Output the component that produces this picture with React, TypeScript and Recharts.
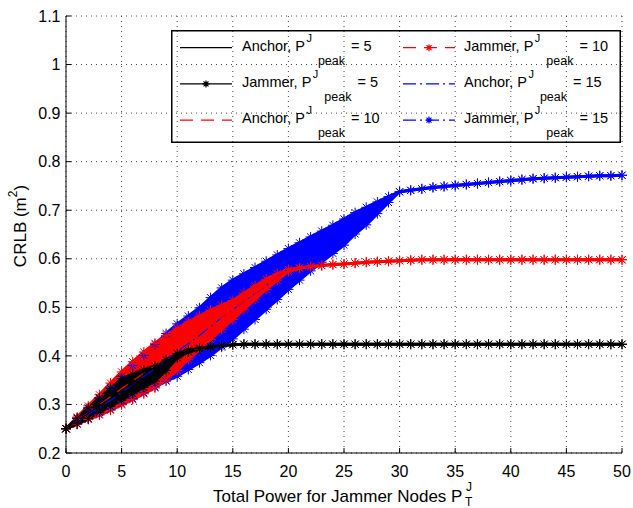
import { ComposedChart, Area, Line, XAxis, YAxis, CartesianGrid, Legend } from "recharts";

// x grid of the jammer curves (total jammer power)
const xs = [
  0, 1, 2, 3, 4, 5, 6, 7, 8, 9, 10, 11, 12, 13, 14, 15, 16, 17, 18, 19, 20, 21, 22, 23, 24, 25,
  26, 27, 28, 29, 30, 31, 32, 33, 34, 35, 36, 37, 38, 39, 40, 41, 42, 43, 44, 45, 46, 47, 48, 49, 50,
];

// Jammer, Ppeak = 5 : spread band for x = 0..15, then flat for x = 16..50
const j5Upper = [0.25, 0.272, 0.293, 0.313, 0.333, 0.353, 0.362, 0.371, 0.379, 0.392, 0.405, 0.412, 0.416, 0.419, 0.421, 0.423];
const j5Lower = [0.25, 0.26, 0.271, 0.284, 0.296, 0.309, 0.322, 0.335, 0.348, 0.37, 0.396, 0.408, 0.414, 0.418, 0.421, 0.423];
const j5Flat = [
  0.424, 0.424, 0.424, 0.424, 0.424, 0.424, 0.424, 0.424, 0.424, 0.424, 0.424, 0.424, 0.424, 0.424, 0.424, 0.424, 0.424, 0.424,
  0.424, 0.424, 0.424, 0.424, 0.424, 0.424, 0.424, 0.424, 0.424, 0.424, 0.424, 0.424, 0.424, 0.424, 0.424, 0.424, 0.424,
];

// Jammer, Ppeak = 10 : band for x = 0..20, flat for x = 21..50
const j10Upper = [
  0.25, 0.274, 0.297, 0.32, 0.344, 0.367, 0.388, 0.408, 0.426, 0.442, 0.457, 0.47, 0.482, 0.494, 0.504, 0.514, 0.529, 0.544,
  0.558, 0.569, 0.578,
];
const j10Lower = [
  0.25, 0.259, 0.269, 0.278, 0.288, 0.299, 0.31, 0.322, 0.334, 0.35, 0.37, 0.393, 0.413, 0.434, 0.455, 0.475, 0.496, 0.517,
  0.537, 0.556, 0.574,
];
const j10Flat = [
  0.581, 0.584, 0.586, 0.588, 0.589, 0.591, 0.593, 0.594, 0.595, 0.596, 0.597, 0.598, 0.598, 0.598, 0.598, 0.598, 0.598,
  0.598, 0.598, 0.598, 0.598, 0.598, 0.598, 0.598, 0.598, 0.598, 0.598, 0.598, 0.598, 0.598,
];

// Jammer, Ppeak = 15 : band for x = 0..30, flat for x = 31..50
const j15Upper = [
  0.25, 0.271, 0.292, 0.314, 0.336, 0.358, 0.38, 0.401, 0.424, 0.446, 0.466, 0.482, 0.499, 0.52, 0.54, 0.556, 0.569, 0.582,
  0.595, 0.608, 0.621, 0.633, 0.645, 0.657, 0.669, 0.682, 0.695, 0.706, 0.717, 0.728, 0.738,
];
const j15Lower = [
  0.25, 0.26, 0.27, 0.28, 0.29, 0.301, 0.312, 0.324, 0.336, 0.348, 0.358, 0.372, 0.386, 0.401, 0.418, 0.435, 0.455, 0.475,
  0.496, 0.516, 0.537, 0.556, 0.575, 0.593, 0.611, 0.628, 0.651, 0.67, 0.693, 0.716, 0.738,
];
const j15Flat = [
  0.741, 0.744, 0.747, 0.749, 0.751, 0.753, 0.755, 0.757, 0.759, 0.761, 0.763, 0.765, 0.766, 0.767, 0.768, 0.769, 0.77,
  0.771, 0.771, 0.772,
];

// Anchor curves on a coarser grid
const anchorX = [0, 2, 4, 6, 8, 10, 12, 14, 16, 18, 20, 22, 24, 26, 28, 30, 35, 40, 45, 50];
const anchor5 = [0.25, 0.282, 0.313, 0.342, 0.363, 0.401, 0.415, 0.421, 0.423, 0.424, 0.424, 0.424, 0.424, 0.424, 0.424, 0.424, 0.424, 0.424, 0.424, 0.424];
const anchor10 = [0.25, 0.283, 0.316, 0.349, 0.38, 0.414, 0.447, 0.479, 0.512, 0.546, 0.577, 0.584, 0.588, 0.591, 0.594, 0.596, 0.598, 0.598, 0.598, 0.598];
const anchor15 = [0.25, 0.279, 0.308, 0.341, 0.374, 0.409, 0.442, 0.479, 0.512, 0.545, 0.579, 0.61, 0.64, 0.673, 0.705, 0.738, 0.751, 0.761, 0.768, 0.772];

const xTicks = [0, 5, 10, 15, 20, 25, 30, 35, 40, 45, 50];
const yTicks = [0.2, 0.3, 0.4, 0.5, 0.6, 0.7, 0.8, 0.9, 1, 1.1];

const lo5 = [...j5Lower, ...j5Flat];
const hi5 = [...j5Upper, ...j5Flat];
const lo10 = [...j10Lower, ...j10Flat];
const hi10 = [...j10Upper, ...j10Flat];
const lo15 = [...j15Lower, ...j15Flat];
const hi15 = [...j15Upper, ...j15Flat];

const rows = xs.map((x, i) => ({
  x,
  lo5: lo5[i], hi5: hi5[i],
  lo10: lo10[i], hi10: hi10[i],
  lo15: lo15[i], hi15: hi15[i],
}));
const anchorRows = anchorX.map((x, i) => ({ x, a5: anchor5[i], a10: anchor10[i], a15: anchor15[i] }));

const FONT = "'Liberation Sans', Arial, Helvetica, sans-serif";
const BLACK = "#000000";
const RED = "#ff0000";
const BLUE = "#0000ff";

const starPath = (cx: number, cy: number, r: number) => {
  const d = r * 0.707;
  return `M${cx - r},${cy}H${cx + r}M${cx},${cy - r}V${cy + r}M${cx - d},${cy - d}L${cx + d},${cy + d}M${cx - d},${cy + d}L${cx + d},${cy - d}`;
};

const starDot = (color: string) => (p: any) => {
  if (p.cx == null || p.cy == null) return <g key={`s${p.index}`} />;
  return <path key={`s${p.index}`} d={starPath(p.cx, p.cy, 5)} stroke={color} strokeWidth={1} fill="none" />;
};

const legendEntries = [
  { name: "Anchor", peak: "5", color: BLACK, dash: undefined, star: false },
  { name: "Jammer", peak: "5", color: BLACK, dash: undefined, star: true },
  { name: "Anchor", peak: "10", color: RED, dash: "13 8", star: false },
  { name: "Jammer", peak: "10", color: RED, dash: "13 8", star: true },
  { name: "Anchor", peak: "15", color: BLUE, dash: "13 4 2 4", star: false },
  { name: "Jammer", peak: "15", color: BLUE, dash: "13 4 2 4", star: true },
];

function LegendBox() {
  return (
    <svg width={450} height={113} style={{ display: "block" }}>
      <rect x={0.75} y={0.75} width={448.5} height={111.5} fill="none" stroke={BLACK} strokeWidth={1.5} />
      {legendEntries.map((e, i) => {
        const col = Math.floor(i / 3);
        const row = i % 3;
        const lx = col ? 232 : 9;
        const tx = col ? 293 : 71;
        const cy = 17.7 + row * 36.2;
        return (
          <g key={i}>
            <line x1={lx} x2={lx + 52} y1={cy} y2={cy} stroke={e.color} strokeWidth={1.2} strokeDasharray={e.dash} />
            {e.star && <path d={starPath(lx + 26, cy, 3.5)} stroke={e.color} strokeWidth={1.2} fill="none" />}
            <text x={tx} y={cy + 3} fontSize={14.5} fontFamily={FONT} fill={BLACK}>
              {e.name}, P
              <tspan dx={1.5} dy={-9} fontSize={11}>J</tspan>
              <tspan dx={6} dy={23} fontSize={12.5}>peak</tspan>
              <tspan dx={2} dy={-14} fontSize={14.5}>{` = ${e.peak}`}</tspan>
            </text>
          </g>
        );
      })}
    </svg>
  );
}

const XLabel = () => (
  <g>
    <text x={213} y={502} fontSize={17} fontFamily={FONT} fill={BLACK}>Total Power for Jammer Nodes P</text>
    <text x={466} y={491} fontSize={12} fontFamily={FONT} fill={BLACK}>J</text>
    <text x={465} y={506} fontSize={12} fontFamily={FONT} fill={BLACK}>T</text>
  </g>
);

const YLabel = () => (
  <text
    x={26}
    y={226}
    transform="rotate(-90 26 226)"
    textAnchor="middle"
    fontSize={17}
    fontFamily={FONT}
    fill={BLACK}
  >
    CRLB (m
    <tspan dy={-9} fontSize={12}>2</tspan>
    <tspan dy={9} fontSize={17}>)</tspan>
  </text>
);

const tickStyle = { fill: BLACK, fontSize: 16, fontFamily: FONT };

export default function App() {
  return (
    <div style={{ position: "absolute", left: 0, top: 0, width: 633, height: 508, background: "#fff" }}>
      <ComposedChart width={633} height={508} data={rows} margin={{ top: 16, right: 11, bottom: 0, left: 0 }}>
        <CartesianGrid stroke="#444" strokeDasharray="1 4" />
        <XAxis
          dataKey="x"
          type="number"
          domain={[0, 50]}
          ticks={xTicks}
          height={55}
          tick={tickStyle}
          tickSize={-5}
          tickMargin={18}
          stroke={BLACK}
          label={XLabel}
        />
        <XAxis xAxisId="top" orientation="top" type="number" domain={[0, 50]} ticks={xTicks} height={0} tick={false} tickSize={-5} stroke={BLACK} />
        <YAxis
          type="number"
          domain={[0.2, 1.1]}
          ticks={yTicks}
          width={66}
          tick={tickStyle}
          tickSize={-5}
          tickMargin={10.5}
          stroke={BLACK}
          label={YLabel}
        />
        <YAxis yAxisId="right" orientation="right" type="number" domain={[0.2, 1.1]} ticks={yTicks} width={0} tick={false} tickSize={-5} stroke={BLACK} />
        <Legend layout="vertical" align="center" verticalAlign="middle" wrapperStyle={{ left: 171, top: 30, width: 450, height: 113 }} content={LegendBox} />

        {/* Ppeak = 15 (blue), drawn first */}
        <Area type="linear" dataKey={(d: any) => [d.lo15, d.hi15]} stroke={BLUE} strokeWidth={3} fill={BLUE} fillOpacity={1} isAnimationActive={false} legendType="none" activeDot={false} />
        <Line type="linear" dataKey="hi15" stroke="none" dot={starDot(BLUE)} activeDot={false} isAnimationActive={false} legendType="none" />
        <Line type="linear" dataKey="lo15" stroke="none" dot={starDot(BLUE)} activeDot={false} isAnimationActive={false} legendType="none" />
        <Line type="linear" data={anchorRows} dataKey="a15" stroke={BLUE} strokeWidth={1.2} strokeDasharray="13 4 2 4" dot={false} activeDot={false} isAnimationActive={false} legendType="none" />

        {/* Ppeak = 10 (red) */}
        <Area type="linear" dataKey={(d: any) => [d.lo10, d.hi10]} stroke={RED} strokeWidth={3} fill={RED} fillOpacity={1} isAnimationActive={false} legendType="none" activeDot={false} />
        <Line type="linear" dataKey="hi10" stroke="none" dot={starDot(RED)} activeDot={false} isAnimationActive={false} legendType="none" />
        <Line type="linear" dataKey="lo10" stroke="none" dot={starDot(RED)} activeDot={false} isAnimationActive={false} legendType="none" />
        <Line type="linear" data={anchorRows} dataKey="a10" stroke={RED} strokeWidth={1.2} strokeDasharray="13 8" dot={false} activeDot={false} isAnimationActive={false} legendType="none" />

        {/* Ppeak = 5 (black), on top */}
        <Area type="linear" dataKey={(d: any) => [d.lo5, d.hi5]} stroke={BLACK} strokeWidth={3} fill={BLACK} fillOpacity={1} isAnimationActive={false} legendType="none" activeDot={false} />
        <Line type="linear" dataKey="hi5" stroke="none" dot={starDot(BLACK)} activeDot={false} isAnimationActive={false} legendType="none" />
        <Line type="linear" dataKey="lo5" stroke="none" dot={starDot(BLACK)} activeDot={false} isAnimationActive={false} legendType="none" />
        <Line type="linear" data={anchorRows} dataKey="a5" stroke={BLACK} strokeWidth={1.2} dot={false} activeDot={false} isAnimationActive={false} legendType="none" />
      </ComposedChart>
    </div>
  );
}
